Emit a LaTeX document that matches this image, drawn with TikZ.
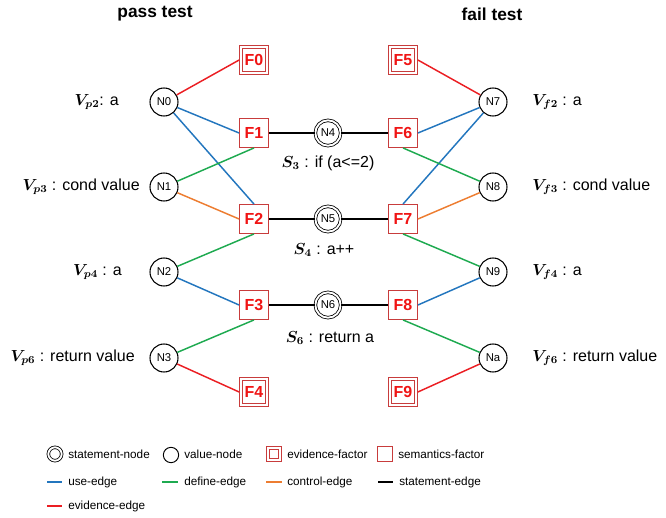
\documentclass[tikz,border=0pt]{standalone}
\usepackage{fontspec}
\setmainfont{Liberation Sans}
\usepackage{amsmath,bm}
\definecolor{useblue}{RGB}{35,118,190}
\definecolor{defgreen}{RGB}{30,170,80}
\definecolor{ctrlorange}{RGB}{237,125,49}
\definecolor{evred}{RGB}{235,30,35}
\definecolor{boxred}{RGB}{200,60,60}
\definecolor{txtred}{RGB}{240,20,20}
\tikzset{
  valnode/.style={circle,draw,line width=0.8pt,minimum size=21pt,inner sep=0pt,
    font=\fontsize{8.5}{8.5}\selectfont},
  stmtnode/.style={circle,draw,line width=0.6pt,double,double distance=1.4pt,
    minimum size=19pt,inner sep=0pt,font=\fontsize{8.5}{8.5}\selectfont},
  semfactor/.style={rectangle,draw=boxred,line width=0.9pt,fill=white,minimum size=21.5pt,
    inner sep=0pt,text=txtred,font=\fontsize{12}{12}\selectfont\bfseries},
  % evidence factor: outer frame plus an inset inner frame
  evfactor/.style={semfactor,line width=0.8pt,
    path picture={\draw[boxred,line width=0.8pt]
      ([shift={(#1,#1)}]path picture bounding box.south west) rectangle
      ([shift={(-#1,-#1)}]path picture bounding box.north east);}},
  evfactor/.default=2.4pt,
  lbl/.style={font=\fontsize{12}{12}\selectfont,inner sep=0pt},
  title/.style={font=\fontsize{13}{13}\selectfont\bfseries,inner sep=0pt},
  legtext/.style={font=\fontsize{8.8}{8.8}\selectfont,anchor=west,inner sep=0pt},
  edge/.style={line width=1.1pt},
  useedge/.style={edge,useblue},
  defedge/.style={edge,defgreen},
  ctrledge/.style={edge,ctrlorange},
  evedge/.style={edge,evred},
  stmtedge/.style={edge,black},
}
\begin{document}
\begin{tikzpicture}[x=0.75pt,y={(0pt,-0.75pt)}]
\useasboundingbox (0,0) rectangle (666,517);

% titles
\node[title] (tpass) at (155,14) {pass test};
\node[title] (tfail) at (492,14) {fail test};

% value nodes, pass test
\node[valnode] (N0) at (164,102) {N0};
\node[valnode] (N1) at (164,187) {N1};
\node[valnode] (N2) at (164,272) {N2};
\node[valnode] (N3) at (164,358) {N3};
% value nodes, fail test
\node[valnode] (N7) at (493,102) {N7};
\node[valnode] (N8) at (493,187) {N8};
\node[valnode] (N9) at (493,272) {N9};
\node[valnode] (Na) at (493,358) {Na};
% statement nodes
\node[stmtnode] (N4) at (328,133) {N4};
\node[stmtnode] (N5) at (328,219) {N5};
\node[stmtnode] (N6) at (328,305) {N6};

% factors
\node[evfactor]  (F0) at (254,60)  {F0};
\node[semfactor] (F1) at (254,133) {F1};
\node[semfactor] (F2) at (254,219) {F2};
\node[semfactor] (F3) at (254,305) {F3};
\node[evfactor]  (F4) at (254,392) {F4};
\node[evfactor]  (F5) at (403,60)  {F5};
\node[semfactor] (F6) at (403,133) {F6};
\node[semfactor] (F7) at (403,219) {F7};
\node[semfactor] (F8) at (403,305) {F8};
\node[evfactor]  (F9) at (403,392) {F9};

% labels
\node[lbl,anchor=east] (lp2) at (119,102) {$\bm{V_{p2}}$: a};
\node[lbl,anchor=east] (lp3) at (140,187) {$\bm{V_{p3}}$ : cond value};
\node[lbl,anchor=east] (lp4) at (122,272) {$\bm{V_{p4}}$ : a};
\node[lbl,anchor=east] (lp6) at (135,358) {$\bm{V_{p6}}$ : return value};
\node[lbl,anchor=west] (lf2) at (532,102) {$\bm{V_{f2}}$ : a};
\node[lbl,anchor=west] (lf3) at (532,187) {$\bm{V_{f3}}$ : cond value};
\node[lbl,anchor=west] (lf4) at (532,272) {$\bm{V_{f4}}$ : a};
\node[lbl,anchor=west] (lf6) at (532,358) {$\bm{V_{f6}}$ : return value};
\node[lbl] (s3) at (328,163) {$\bm{S_{3}}$ : if (a<=2)};
\node[lbl] (s4) at (324,250) {$\bm{S_{4}}$ : a++};
\node[lbl] (s6) at (330,338) {$\bm{S_{6}}$ : return a};

% edges, pass test
\draw[evedge]   (N0) -- (F0.west);
\draw[useedge]  (N0) -- (F1.west);
\draw[useedge]  (N0) -- (F2.north);
\draw[defedge]  (F1.south) -- (N1);
\draw[ctrledge] (N1) -- (F2.west);
\draw[defedge]  (F2.south) -- (N2);
\draw[useedge]  (N2) -- (F3.west);
\draw[defedge]  (F3.south) -- (N3);
\draw[evedge]   (N3) -- (F4.west);
% edges, fail test
\draw[evedge]   (F5.east) -- (N7);
\draw[useedge]  (F6.east) -- (N7);
\draw[useedge]  (F7.north) -- (N7);
\draw[defedge]  (F6.south) -- (N8);
\draw[ctrledge] (F7.east) -- (N8);
\draw[defedge]  (F7.south) -- (N9);
\draw[useedge]  (F8.east) -- (N9);
\draw[defedge]  (F8.south) -- (Na);
\draw[evedge]   (F9.east) -- (Na);
% statement edges
\draw[stmtedge] (F1.east) -- (N4) -- (F6.west);
\draw[stmtedge] (F2.east) -- (N5) -- (F7.west);
\draw[stmtedge] (F3.east) -- (N6) -- (F8.west);

% legend
\node[stmtnode,minimum size=10pt] (ks) at (55,454) {};
\node[legtext] (kst) at (68,454) {statement-node};
\node[valnode,minimum size=11.5pt,line width=0.7pt] (kv) at (171,455) {};
\node[legtext] (kvt) at (184,454) {value-node};
\node[evfactor=2pt,minimum size=11pt] (ke) at (274,454) {};
\node[legtext] (ket) at (287,454) {evidence-factor};
\node[semfactor,minimum size=11pt] (kf) at (385,454) {};
\node[legtext] (kft) at (398,454) {semantics-factor};

\coordinate (ku1) at (47,482);  \coordinate (ku2) at (62,482);
\coordinate (kd1) at (162,482); \coordinate (kd2) at (178,482);
\coordinate (kc1) at (266,482); \coordinate (kc2) at (282,482);
\coordinate (kb1) at (378,482); \coordinate (kb2) at (393,482);
\coordinate (kr1) at (47,506);  \coordinate (kr2) at (62,506);
\draw[useedge]  (ku1) -- (ku2);
\draw[defedge]  (kd1) -- (kd2);
\draw[ctrledge] (kc1) -- (kc2);
\draw[stmtedge] (kb1) -- (kb2);
\draw[evedge]   (kr1) -- (kr2);
\node[legtext] (kut) at (68,482)  {use-edge};
\node[legtext] (kdt) at (184,482) {define-edge};
\node[legtext] (kct) at (287,482) {control-edge};
\node[legtext] (kbt) at (399,482) {statement-edge};
\node[legtext] (krt) at (68,506)  {evidence-edge};
\end{tikzpicture}
\end{document}
